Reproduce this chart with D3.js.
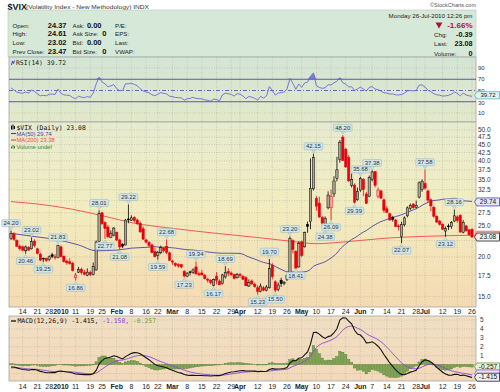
<!DOCTYPE html>
<html><head><meta charset="utf-8">
<script src="https://cdn.jsdelivr.net/npm/d3@7"></script>
<style>
body{margin:0;background:#fff}
svg{display:block}
text{font-family:"Liberation Sans",Arial,sans-serif}
.mono{font-family:"DejaVu Sans Mono","Liberation Mono",monospace}
</style></head>
<body><svg id="c" width="500" height="392"></svg>
<script>
// ---------------- DATA ----------------
const dates = [
"2009-12-08","2009-12-09","2009-12-10","2009-12-11","2009-12-14","2009-12-15","2009-12-16","2009-12-17","2009-12-18","2009-12-21","2009-12-22","2009-12-23","2009-12-24","2009-12-28","2009-12-29","2009-12-30","2009-12-31",
"2010-01-04","2010-01-05","2010-01-06","2010-01-07","2010-01-08","2010-01-11","2010-01-12","2010-01-13","2010-01-14","2010-01-15","2010-01-19","2010-01-20","2010-01-21","2010-01-22","2010-01-25","2010-01-26","2010-01-27","2010-01-28","2010-01-29",
"2010-02-01","2010-02-02","2010-02-03","2010-02-04","2010-02-05","2010-02-08","2010-02-09","2010-02-10","2010-02-11","2010-02-12","2010-02-16","2010-02-17","2010-02-18","2010-02-19","2010-02-22","2010-02-23","2010-02-24","2010-02-25","2010-02-26",
"2010-03-01","2010-03-02","2010-03-03","2010-03-04","2010-03-05","2010-03-08","2010-03-09","2010-03-10","2010-03-11","2010-03-12","2010-03-15","2010-03-16","2010-03-17","2010-03-18","2010-03-19","2010-03-22","2010-03-23","2010-03-24","2010-03-25","2010-03-26","2010-03-29","2010-03-30","2010-03-31",
"2010-04-01","2010-04-05","2010-04-06","2010-04-07","2010-04-08","2010-04-09","2010-04-12","2010-04-13","2010-04-14","2010-04-15","2010-04-16","2010-04-19","2010-04-20","2010-04-21","2010-04-22","2010-04-23","2010-04-26","2010-04-27","2010-04-28","2010-04-29","2010-04-30",
"2010-05-03","2010-05-04","2010-05-05","2010-05-06","2010-05-07","2010-05-10","2010-05-11","2010-05-12","2010-05-13","2010-05-14","2010-05-17","2010-05-18","2010-05-19","2010-05-20","2010-05-21","2010-05-24","2010-05-25","2010-05-26","2010-05-27","2010-05-28",
"2010-06-01","2010-06-02","2010-06-03","2010-06-04","2010-06-07","2010-06-08","2010-06-09","2010-06-10","2010-06-11","2010-06-14","2010-06-15","2010-06-16","2010-06-17","2010-06-18","2010-06-21","2010-06-22","2010-06-23","2010-06-24","2010-06-25","2010-06-28","2010-06-29","2010-06-30",
"2010-07-01","2010-07-02","2010-07-06","2010-07-07","2010-07-08","2010-07-09","2010-07-12","2010-07-13","2010-07-14","2010-07-15","2010-07-16","2010-07-19","2010-07-20","2010-07-21","2010-07-22","2010-07-23","2010-07-26"];

const open = [
22.80,23.60,22.50,21.60,21.50,20.90,21.40,21.20,22.40,21.20,20.40,19.80,19.80,19.60,20.30,20.00,19.90,
21.50,20.10,19.40,19.30,19.10,17.20,17.90,18.30,17.90,17.50,17.90,17.60,18.20,22.40,27.50,25.60,24.80,23.00,23.40,
23.90,22.60,21.90,21.80,26.30,26.00,26.60,26.10,25.50,24.50,22.60,22.20,21.80,20.80,20.20,20.60,21.30,21.60,20.60,
19.40,19.10,18.90,18.90,18.00,17.40,17.95,17.90,18.60,17.70,17.80,17.50,17.00,16.90,16.30,17.40,16.80,16.50,17.30,18.00,17.80,17.60,17.20,
17.60,17.40,17.20,16.20,16.80,16.40,16.00,15.60,16.00,15.70,16.00,18.80,16.70,15.80,16.90,16.50,17.00,17.60,22.50,20.80,18.60,
22.30,21.50,25.30,25.80,32.70,30.50,29.50,26.60,25.20,28.50,28.50,31.50,35.30,40.50,47.50,43.50,41.00,33.50,33.60,30.20,
32.40,35.00,31.50,31.00,35.00,37.00,31.00,32.20,30.20,28.30,27.30,26.60,26.10,25.00,23.20,25.20,26.90,28.40,29.30,28.60,30.80,32.50,
34.00,32.20,30.20,28.60,26.80,25.90,25.30,24.10,25.00,24.90,25.90,26.70,27.00,23.90,25.00,24.30,24.37];

const high = [
24.20,23.90,22.70,21.90,21.70,21.70,21.60,23.02,22.70,21.30,20.60,19.90,19.90,20.20,20.60,20.40,21.83,
21.70,20.20,19.60,19.80,19.30,17.80,18.60,18.50,18.20,18.40,18.10,19.20,22.50,28.01,27.70,25.90,25.20,24.20,24.80,
24.00,22.80,22.10,26.30,29.22,27.00,26.80,26.40,25.80,24.90,22.80,22.40,22.00,21.40,20.90,21.70,21.50,22.68,20.80,
19.60,19.20,19.10,19.00,18.20,17.90,18.10,18.40,19.34,18.00,18.20,17.70,17.20,17.00,17.10,17.90,17.00,17.70,18.69,18.40,18.00,17.70,17.80,
17.80,17.50,17.40,17.00,17.00,16.60,16.30,16.50,16.20,16.30,19.70,19.10,16.90,16.60,17.20,16.80,17.60,23.20,22.70,21.00,22.40,
22.50,24.00,25.80,40.71,42.15,31.00,30.90,26.90,26.80,32.10,32.50,35.80,41.20,46.50,48.20,44.00,41.70,36.50,34.00,33.00,
35.68,35.30,32.00,36.00,37.38,37.20,33.00,32.50,30.50,28.90,27.50,26.90,26.30,25.30,25.80,26.80,28.80,29.40,29.50,30.00,34.50,35.00,
37.58,32.50,30.50,28.90,27.00,26.10,25.50,24.90,25.40,25.90,28.16,27.00,27.20,26.10,25.20,24.50,24.61];

const low = [
22.60,22.50,21.50,20.90,20.80,20.46,20.90,21.10,21.40,20.40,19.40,19.25,19.30,19.40,19.80,19.60,19.80,
19.90,19.20,18.90,18.90,18.00,16.86,17.80,17.60,17.50,17.40,17.40,17.50,18.10,22.30,25.20,22.77,22.90,22.90,23.20,
22.40,21.08,21.30,21.70,25.50,25.90,25.60,25.20,23.80,22.60,22.00,21.50,20.50,19.90,19.59,20.40,20.60,20.40,19.40,
18.90,18.60,18.50,18.40,17.23,17.30,17.50,17.70,17.60,17.40,17.50,17.00,16.60,16.40,16.17,16.40,16.30,16.40,17.10,17.40,17.40,17.00,17.10,
17.20,16.90,16.20,16.10,16.30,16.00,15.23,15.50,15.60,15.60,15.90,17.00,15.50,15.60,16.10,16.30,16.80,17.40,20.50,18.41,18.50,
20.00,21.40,23.80,24.40,32.30,27.90,26.50,25.00,24.38,28.20,26.09,30.80,34.50,39.50,40.00,38.00,34.40,33.00,29.39,30.00,
32.00,31.00,29.30,30.80,34.50,33.00,30.50,30.40,27.50,27.40,26.00,25.80,24.80,24.20,22.07,24.90,26.60,28.00,28.30,28.40,30.50,32.00,
32.50,29.60,27.80,26.50,25.60,25.10,24.30,23.12,24.30,24.50,25.70,25.60,23.80,23.70,24.00,23.30,23.02];

const close = [
23.69,22.69,21.59,21.22,21.00,21.49,21.00,22.31,21.68,20.49,19.54,19.71,19.47,20.01,20.05,19.90,21.68,
20.04,19.35,19.16,19.06,18.13,17.55,18.25,17.85,17.63,17.91,17.58,18.68,22.27,27.31,25.41,24.55,23.14,23.73,24.62,
22.59,21.48,21.60,26.08,26.11,26.51,26.00,25.40,23.96,22.73,22.25,21.72,20.63,20.02,20.64,21.37,20.95,20.67,19.50,
19.26,18.83,18.72,18.60,17.42,17.79,17.92,18.20,17.68,17.58,17.55,17.10,16.91,16.62,16.97,16.87,16.35,17.55,17.88,17.77,17.59,17.13,17.59,
17.47,17.02,16.23,16.62,16.46,16.14,15.58,16.20,15.72,16.09,18.36,17.34,15.73,16.32,16.48,16.62,17.47,22.81,21.08,18.44,22.05,
20.19,23.84,24.91,32.80,40.95,28.84,26.68,25.52,26.39,31.24,31.00,34.60,37.50,45.79,40.10,38.32,34.61,35.02,29.68,32.07,
35.22,32.55,29.46,35.48,36.93,33.55,32.40,30.57,28.00,27.60,26.10,26.25,24.90,24.88,25.30,26.50,28.50,29.00,28.53,29.00,34.13,34.54,
32.86,30.12,28.90,26.84,25.71,25.30,24.43,24.56,24.89,25.60,26.90,25.97,23.93,25.64,24.13,23.47,23.08];

// state before first visible day (for indicator warm-up)
const prevClose0 = 22.57;
const rsiSeedGain = 0.52, rsiSeedLoss = 0.50;
const ema12Seed = 22.95, ema26Seed = 23.30, signalSeed = -0.40;

// moving averages
const ma50EarlyDates = ["2009-12-08","2009-12-21","2009-12-31","2010-01-12","2010-01-21","2010-02-01","2010-02-08","2010-02-17"];
const ma50EarlyValues = [23.7,23.1,22.6,21.8,20.9,21.0,21.3,21.45];
const ma200Dates = ["2009-12-08","2009-12-21","2010-01-08","2010-01-26","2010-02-09","2010-02-25","2010-03-22","2010-04-12","2010-04-27","2010-05-10","2010-05-24","2010-06-14","2010-07-01","2010-07-26"];
const ma200Values = [29.8,29.3,28.2,26.8,25.5,24.7,23.7,23.0,22.4,22.0,22.3,22.9,23.2,23.38];

// annotated highs and lows
const hiDates = ["2009-12-08","2009-12-17","2009-12-31","2010-01-22","2010-02-05","2010-02-25","2010-03-11","2010-03-25","2010-04-16","2010-04-27","2010-05-07","2010-05-21","2010-06-01","2010-06-07","2010-07-01","2010-07-16"];
const hiValues = [24.20,23.02,21.83,28.01,29.22,22.68,19.34,18.69,19.70,23.20,42.15,48.20,35.68,37.38,37.58,28.16];
const loDates = ["2009-12-15","2009-12-23","2010-01-11","2010-01-26","2010-02-02","2010-02-22","2010-03-05","2010-03-19","2010-04-12","2010-04-20","2010-04-29","2010-05-13","2010-05-17","2010-05-27","2010-06-21","2010-07-13"];
const loValues = [20.46,19.25,16.86,22.77,21.08,19.59,17.23,16.17,15.23,15.50,18.41,24.38,26.09,29.39,22.07,23.12];

// axis ticks
const tickDates = ["2009-12-14","2009-12-21","2009-12-28","2010-01-04","2010-01-11","2010-01-19","2010-01-25","2010-02-01","2010-02-08","2010-02-16","2010-02-22","2010-03-01","2010-03-08","2010-03-15","2010-03-22","2010-03-29","2010-04-01","2010-04-12","2010-04-19","2010-04-26","2010-05-03","2010-05-10","2010-05-17","2010-05-24","2010-06-01","2010-06-07","2010-06-14","2010-06-21","2010-06-28","2010-07-01","2010-07-12","2010-07-19","2010-07-26"];
const tickLabels = ["14","21","28","2010","11","19","25","Feb","8","16","22","Mar","8","15","22","29","Apr","12","19","26","May","10","17","24","Jun","7","14","21","28","Jul","12","19","26"];
const priceTicks = [15,17.5,20,22.5,25,27.5,30,32.5,35,37.5,40,42.5,45,47.5,50];
const rsiTicks = [90,70,50,30,10];
const macdTicks = [1,2,3,4,5];

// header values
const infoLeft = [["Open:","24.37"],["High:","24.61"],["Low:","23.02"],["Prev Close:","23.47"]];
const infoMid = [["Ask:","0.00"],["Ask Size:","0"],["Bid:","0.00"],["Bid Size:","0"]];
const infoRight = ["P/E:","EPS:","Last:","VWAP:"];
const lastRsi = 39.72, lastMa50 = 29.74, lastMa200 = 23.38, lastClose = 23.08;
const lastMacd = -1.415, lastSignal = -1.158, lastHist = -0.257;

// ---------------- CHART ----------------
const svg = d3.select('#c');
const L = 9, R = 476;
const P = {info:[10,57], rsi:[57,122], price:[122,307], macd:[316,381]};

const x = d3.scalePoint().domain(dates).range([11, 472]);
const y = d3.scaleLog().domain([15,50]).range([296.7,130]);
const ry = d3.scaleLinear().domain([0,100]).range([118.6,62.4]);
const my = d3.scaleLinear().domain([0,5]).range([364.6,320]);

const defs = svg.append('defs');
function grad(id, stops){
  const g = defs.append('linearGradient').attr('id',id).attr('x1',0).attr('y1',0).attr('x2',0).attr('y2',1);
  stops.forEach(s=>g.append('stop').attr('offset',s[0]).attr('stop-color',s[1]));
}
grad('gRsi',[[0,'#d3e5d6'],[1,'#e3e9c9']]);
grad('gPrice',[[0,'#e6ebd0'],[0.45,'#f2edc0'],[1,'#f5dab3']]);
grad('gMacd',[[0,'#f1dfc3'],[1,'#f3d9b9']]);

// title
svg.append('text').attr('x',7.5).attr('y',9.5).attr('font-size',9).attr('font-weight','bold').attr('fill','#111').text('$VIX');
svg.append('text').attr('x',26).attr('y',9).attr('font-size',6).attr('fill','#333')
  .attr('textLength',123).attr('lengthAdjust','spacingAndGlyphs').text('(Volatility Index - New Methodology) INDX');
svg.append('text').attr('x',476).attr('y',7).attr('font-size',5.5).attr('text-anchor','end').attr('fill','#555').text('\u00A9StockCharts.com');

// info box
svg.append('rect').attr('x',L-1).attr('y',P.info[0]).attr('width',R-L+1).attr('height',P.info[1]-P.info[0])
  .attr('fill','#d6e8d7').attr('stroke','#b8c8b8').attr('stroke-width',0.6);
const rowY = [27.5,36.2,45.2,54.4];
infoLeft.forEach((r,i)=>{
  svg.append('text').attr('x',12.5).attr('y',rowY[i]).attr('font-size',6.2).attr('fill','#222').text(r[0]);
  svg.append('text').attr('x',66.5).attr('y',rowY[i]).attr('font-size',7.5).attr('font-weight','bold').attr('text-anchor','end').attr('fill','#111').text(r[1]);
});
infoMid.forEach((r,i)=>{
  svg.append('text').attr('x',72.5).attr('y',rowY[i]).attr('font-size',6.2).attr('fill','#222').text(r[0]);
  svg.append('text').attr('x',i%2 ? 106.5 : 101.5).attr('y',rowY[i]).attr('font-size',7.5).attr('font-weight','bold').attr('text-anchor','end').attr('fill','#111').text(r[1]);
});
infoRight.forEach((t,i)=>{
  svg.append('text').attr('x',115).attr('y',rowY[i]).attr('font-size',6.2).attr('fill','#222').text(t);
});
svg.append('text').attr('x',472.5).attr('y',18.2).attr('font-size',6.2).attr('text-anchor','end').attr('fill','#222').text('Monday  26-Jul-2010  12:26 pm');
svg.append('path').attr('d','M435.5,22.5 L442.5,22.5 L439,28.5 Z').attr('fill','#b01040');
svg.append('text').attr('x',472.5).attr('y',28.3).attr('font-size',8).attr('font-weight','bold').attr('text-anchor','end').attr('fill','#b01040').text('-1.66%');
[["Chg:","-0.39",36.8],["Last:","23.08",45.8],["Volume:","0",55.6]].forEach(r=>{
  svg.append('text').attr('x',434).attr('y',r[2]).attr('font-size',6.2).attr('fill','#222').text(r[0]);
  svg.append('text').attr('x',472.5).attr('y',r[2]).attr('font-size',7.2).attr('font-weight','bold').attr('text-anchor','end').attr('fill','#111').text(r[1]);
});

// panel backgrounds
function panel(rng, fill){
  svg.append('rect').attr('x',L).attr('y',rng[0]).attr('width',R-L).attr('height',rng[1]-rng[0])
    .attr('fill',fill).attr('stroke','#9a9a9a').attr('stroke-width',0.7);
}
panel(P.rsi,'url(#gRsi)');
panel(P.price,'url(#gPrice)');
panel(P.macd,'url(#gMacd)');

// vertical grid
const grid = svg.append('g').attr('stroke','#a9a99c').attr('stroke-width',0.5).attr('stroke-dasharray','1,1.5');
[P.rsi,P.price,P.macd].forEach(rng=>{
  tickDates.forEach(d=>grid.append('line').attr('x1',x(d)).attr('x2',x(d)).attr('y1',rng[0]).attr('y2',rng[1]));
});
priceTicks.forEach(v=>grid.append('line').attr('x1',L).attr('x2',R).attr('y1',y(v)).attr('y2',y(v)));
[90,10].forEach(v=>grid.append('line').attr('x1',L).attr('x2',R).attr('y1',ry(v)).attr('y2',ry(v)));
[-1,1,2,3,4,5].forEach(v=>grid.append('line').attr('x1',L).attr('x2',R).attr('y1',my(v)).attr('y2',my(v)));

// x axis labels
function xLabels(baseY){
  tickDates.forEach((d,i)=>{
    const bold = isNaN(+tickLabels[i]) || tickLabels[i]==='2010';
    svg.append('text').attr('x',x(d)).attr('y',baseY).attr('font-size',7).attr('text-anchor','middle')
      .attr('font-weight',bold?'bold':'normal').attr('fill','#222').text(tickLabels[i]);
  });
}
xLabels(314.3);
xLabels(388.8);

// right axis labels (those covered by a value tag are hidden, as in the original)
const priceTagYs = [y(lastMa50), y(lastClose), y(lastMa200)];
priceTicks.forEach(v=>{
  if (priceTagYs.some(t=>Math.abs(t-y(v))<6.5)) return;
  svg.append('text').attr('x',478).attr('y',y(v)).attr('dy','0.35em').attr('font-size',6.5).attr('fill','#333').text(v.toFixed(1));
});
rsiTicks.forEach(v=>svg.append('text').attr('x',478).attr('y',ry(v) + (v===30 ? 0.8 : 0)).attr('dy','0.35em').attr('font-size',6).attr('fill','#333').text(v));
macdTicks.forEach(v=>svg.append('text').attr('x',480).attr('y',my(v)).attr('dy','0.35em').attr('font-size',6.5).attr('fill','#333').text(v));

// ---------- RSI ----------
let ag = rsiSeedGain, al = rsiSeedLoss, pc = prevClose0;
const rsi = close.map(c=>{
  const ch = c - pc; pc = c;
  ag = (ag*13 + Math.max(ch,0))/14;
  al = (al*13 + Math.max(-ch,0))/14;
  return 100 - 100/(1+ag/al);
});
const rg = svg.append('g');
rg.append('path').datum(rsi).attr('fill','#6565d0').attr('fill-opacity',0.8)
  .attr('d',d3.area().x((d,i)=>x(dates[i])).y0(ry(70)).y1(d=>ry(Math.max(d,70))));
[70,30].forEach(v=>rg.append('line').attr('x1',L).attr('x2',R).attr('y1',ry(v)).attr('y2',ry(v)).attr('stroke','#4a4aa8').attr('stroke-width',0.9));
rg.append('line').attr('x1',L).attr('x2',R).attr('y1',ry(50)).attr('y2',ry(50)).attr('stroke','#4a4aa8').attr('stroke-width',0.8).attr('stroke-dasharray','4,2,1,2');
rg.append('path').datum(rsi).attr('fill','none').attr('stroke','#6a6ad8').attr('stroke-width',0.9)
  .attr('d',d3.line().x((d,i)=>x(dates[i])).y(d=>ry(d)));
svg.append('path').attr('d','M11.5,65 L12.5,61 L13.5,63.5 L14.5,60.5').attr('fill','none').attr('stroke','#3030c0').attr('stroke-width',0.9);
svg.append('text').attr('class','mono').attr('x',16).attr('y',64.6).attr('font-size',6.4).attr('fill','#222').text('RSI(14) '+lastRsi.toFixed(2));

// ---------- PRICE ----------
const mg = svg.append('g');
mg.append('path').datum(ma200Dates.map((d,i)=>[d,ma200Values[i]])).attr('fill','none').attr('stroke','#f04a4a').attr('stroke-width',0.9)
  .attr('d',d3.line().x(d=>x(d[0])).y(d=>y(d[1])).curve(d3.curveMonotoneX));
const ma50pts = ma50EarlyDates.map((d,i)=>[d,ma50EarlyValues[i]]);
for(let i=49;i<close.length;i++){ ma50pts.push([dates[i], d3.mean(close.slice(i-49,i+1))]); }
mg.append('path').datum(ma50pts).attr('fill','none').attr('stroke','#4a42a8').attr('stroke-width',0.9)
  .attr('d',d3.line().x(d=>x(d[0])).y(d=>y(d[1])).curve(d3.curveMonotoneX));

const cg = svg.append('g');
dates.forEach((d,i)=>{
  const cx = x(d), o = open[i], c = close[i];
  const prev = i ? close[i-1] : prevClose0;
  const col = c < prev ? '#e8000b' : '#000';
  const hollow = c > o;
  cg.append('line').attr('x1',cx).attr('x2',cx).attr('y1',y(high[i])).attr('y2',y(low[i])).attr('stroke',col).attr('stroke-width',0.8);
  const top = y(Math.max(o,c)), bot = y(Math.min(o,c));
  cg.append('rect').attr('x',cx-1.15).attr('y',top).attr('width',2.3).attr('height',Math.max(bot-top,0.8))
    .attr('fill', hollow ? (col==='#000' ? '#aea891' : '#f3b3aa') : col)
    .attr('stroke',col).attr('stroke-width',0.5);
});

// annotations
const ag2 = svg.append('g');
function note(d, v, up){
  const cx = x(d), tip = y(v) + (up ? -0.8 : 0.8);
  const t = v.toFixed(2), w = t.length*3.0+3.5, h = 7;
  const by = up ? tip-3-h : tip+3;
  ag2.append('path').attr('d', up ? `M${cx-2},${tip-3} L${cx+2},${tip-3} L${cx},${tip} Z` : `M${cx-2},${tip+3} L${cx+2},${tip+3} L${cx},${tip} Z`)
    .attr('fill','#d2e6ea').attr('stroke','#8fb3ba').attr('stroke-width',0.5);
  ag2.append('rect').attr('x',cx-w/2).attr('y',by).attr('width',w).attr('height',h).attr('rx',1)
    .attr('fill','#d2e6ea').attr('stroke','#8fb3ba').attr('stroke-width',0.5);
  ag2.append('text').attr('x',cx).attr('y',by+5.4).attr('font-size',6).attr('text-anchor','middle').attr('fill','#333').text(t);
}
hiDates.forEach((d,i)=>note(d,hiValues[i],true));
loDates.forEach((d,i)=>note(d,loValues[i],false));

// price legend
svg.append('path').attr('d','M11.5,125.5 v4 M13,124.5 v5 M14.5,126 v3').attr('stroke','#000').attr('stroke-width',1);
svg.append('text').attr('class','mono').attr('x',16.5).attr('y',129.6).attr('font-size',6.4).attr('fill','#111').text('$VIX (Daily) '+lastClose.toFixed(2));
svg.append('line').attr('x1',11).attr('x2',16).attr('y1',133.5).attr('y2',133.5).attr('stroke','#4a42a8').attr('stroke-width',1.2);
svg.append('text').attr('x',16.5).attr('y',135.8).attr('font-size',5.8).attr('fill','#4a42a8').text('MA(50) '+lastMa50.toFixed(2));
svg.append('line').attr('x1',11).attr('x2',16).attr('y1',140).attr('y2',140).attr('stroke','#f04a4a').attr('stroke-width',1.2);
svg.append('text').attr('x',16.5).attr('y',142.3).attr('font-size',5.8).attr('fill','#f04a4a').text('MA(200) '+lastMa200.toFixed(2));
svg.append('path').attr('d','M11.5,148.5 v-2 M13,148.5 v-3.5 M14.5,148.5 v-2.5').attr('stroke','#2e8b2e').attr('stroke-width',1);
svg.append('text').attr('x',16.5).attr('y',148.8).attr('font-size',5.8).attr('fill','#2e8b2e').text('Volume undef');

// value tags on the right edge
function tagBox(yv, stroke, fill, hh){
  const h = hh || 4;
  svg.append('path').attr('d',`M474.5,${yv} L477,${yv-h} L499.5,${yv-h} L499.5,${yv+h} L477,${yv+h} Z`)
    .attr('fill',fill).attr('stroke',stroke).attr('stroke-width',0.8);
}
function tag(yv, txt, stroke, fill, fs){
  const f = fs || 6.5;
  tagBox(yv, stroke, fill, f < 6.5 ? 3.6 : 4);
  svg.append('text').attr('x',488).attr('y',yv).attr('dy','0.35em').attr('font-size',f).attr('text-anchor','middle').attr('fill','#111').text(txt);
}
tag(y(lastMa50), lastMa50.toFixed(2), '#4a42a8', '#e4e8f6');
tagBox(y(lastMa200), '#f04a4a', '#fbe3e0');           // hidden beneath the close tag
tag(y(lastClose), lastClose.toFixed(2), '#222', '#f2f2ee');
tag(ry(lastRsi)-1, lastRsi.toFixed(2), '#5ab0c0', '#e2f3f3', 6);

// ---------- MACD ----------
let e12 = ema12Seed, e26 = ema26Seed, sg = signalSeed;
const macd = [], sig = [], hist = [];
close.forEach(c=>{
  e12 += (c-e12)*2/13; e26 += (c-e26)*2/27;
  const m = e12-e26; sg += (m-sg)*2/10;
  macd.push(m); sig.push(sg); hist.push(m-sg);
});
const hg = svg.append('g');
hg.append('line').attr('x1',L).attr('x2',R).attr('y1',my(0)).attr('y2',my(0)).attr('stroke','#7d9a5a').attr('stroke-width',0.6).attr('stroke-dasharray','1,1.5');
hist.forEach((h,i)=>{
  const cx = x(dates[i]);
  hg.append('rect').attr('x',cx-1.2).attr('width',2.4)
    .attr('y',Math.min(my(0),my(h))).attr('height',Math.max(Math.abs(my(h)-my(0)),0.4))
    .attr('fill','#7ea553').attr('stroke','#4f7a2c').attr('stroke-width',0.4);
});
hg.append('path').datum(sig).attr('fill','none').attr('stroke','#8e46d8').attr('stroke-width',0.9)
  .attr('d',d3.line().x((d,i)=>x(dates[i])).y(d=>my(d)));
hg.append('path').datum(macd).attr('fill','none').attr('stroke','#111').attr('stroke-width',1.1)
  .attr('d',d3.line().x((d,i)=>x(dates[i])).y(d=>my(d)));
svg.append('line').attr('x1',11).attr('x2',16).attr('y1',321).attr('y2',321).attr('stroke','#111').attr('stroke-width',1.3);
const mt = svg.append('text').attr('class','mono').attr('x',17.5).attr('y',323.3).attr('font-size',6.4);
mt.append('tspan').attr('fill','#111').text('MACD(12,26,9) '+lastMacd.toFixed(3)+', ');
mt.append('tspan').attr('fill','#8e46d8').text(lastSignal.toFixed(3)+', ');
mt.append('tspan').attr('fill','#6aa040').text(lastHist.toFixed(3));
tag(my(lastHist), lastHist.toFixed(3), '#6aa040', '#e3f1d8');
tagBox(my(lastSignal)-1, '#8e46d8', '#eee4f8');        // hidden beneath the MACD tag
tag(my(lastMacd), lastMacd.toFixed(3), '#222', '#eef0f6');
</script></body></html>
